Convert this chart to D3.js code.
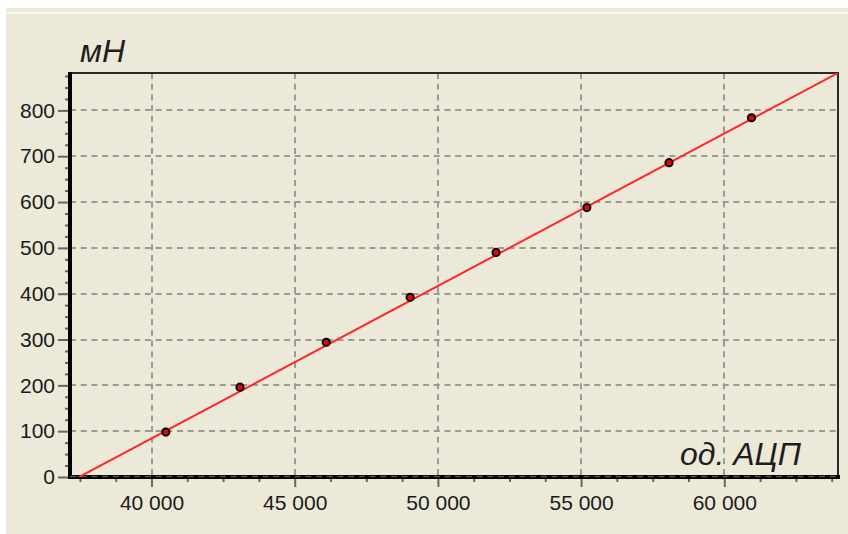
<!DOCTYPE html>
<html>
<head>
<meta charset="utf-8">
<script src="https://cdn.jsdelivr.net/npm/d3@7"></script>
<style>
  html, body { margin: 0; padding: 0; background: #ffffff; }
  svg { display: block; }
  text { font-family: "Liberation Sans", Arial, sans-serif; }
</style>
</head>
<body>
<svg id="chart" width="848" height="534"></svg>
<script>
// ---- data ----
const adcValues   = [40500, 43090, 46100, 49030, 52030, 55200, 58070, 60950]; // од. АЦП
const forceValues = [98, 196, 294, 392, 490, 588, 686, 784];                 // мН
const xTicks = [40000, 45000, 50000, 55000, 60000];
const yTicks = [0, 100, 200, 300, 400, 500, 600, 700, 800];
const xDomain = [37154, 63970];
const yDomain = [0, 881.6];
// calibration line: force = fitSlope * (adc - fitZero)
const fitSlope = [0.033268];
const fitZero  = [37469];
const yLabel = "мН";
const xLabel = "од. АЦП";

const svg = d3.select("#chart");
const W = 848, H = 534;
const plot = {left: 70, right: 838, top: 73, bottom: 477};

// background
svg.append("rect").attr("x", 0).attr("y", 0).attr("width", W).attr("height", H).attr("fill", "#ffffff");
svg.append("rect").attr("x", 6).attr("y", 8).attr("width", W - 6).attr("height", 4).attr("fill", "#ece9d8");
svg.append("rect").attr("x", 6).attr("y", 12).attr("width", W - 6).attr("height", 2).attr("fill", "#f7f6f0");
svg.append("rect").attr("x", 6).attr("y", 14).attr("width", W - 6).attr("height", H - 14).attr("fill", "#ece9d8");

const x = d3.scaleLinear().domain(xDomain).range([plot.left, plot.right]);
const y = d3.scaleLinear().domain(yDomain).range([plot.bottom, plot.top]);

const fmt = d3.formatLocale({decimal: ",", thousands: "\u00a0", grouping: [3], currency: ["", ""]}).format(",d");

// grid
const grid = svg.append("g").attr("stroke", "#9a9a9a").attr("stroke-width", 2).attr("stroke-dasharray", "6,4.7");
grid.selectAll("line.vx").data(xTicks).join("line")
  .attr("x1", d => Math.round(x(d))).attr("x2", d => Math.round(x(d)))
  .attr("y1", plot.top).attr("y2", plot.bottom);
grid.selectAll("line.hy").data(yTicks.filter(d => d > 0)).join("line")
  .attr("y1", d => Math.round(y(d))).attr("y2", d => Math.round(y(d)))
  .attr("x1", plot.left).attr("x2", plot.right);

// top and right border
svg.append("path")
  .attr("d", `M${plot.left},${plot.top}H${plot.right}V${plot.bottom}`)
  .attr("fill", "none").attr("stroke", "#2a2a2a").attr("stroke-width", 2);

// minor ticks
const xMinor = d3.range(37500, xDomain[1], 1250);
const yMinor = d3.range(0, yDomain[1], 25);

const tickFont = "'Liberation Sans', Arial, sans-serif";

const xAxis = d3.axisBottom(x).tickValues(xTicks).tickFormat(fmt).tickSize(10).tickPadding(8);
const gx = svg.append("g").attr("transform", `translate(0,${plot.bottom})`).call(xAxis);
gx.select(".domain").remove();
gx.selectAll(".tick line").attr("stroke", "#666").attr("stroke-width", 2);
gx.selectAll(".tick text").attr("font-size", 21).attr("font-family", tickFont).attr("fill", "#1a1a1a");

const gxm = svg.append("g").attr("transform", `translate(0,${plot.bottom})`)
  .call(d3.axisBottom(x).tickValues(xMinor.filter(v => !xTicks.includes(v))).tickFormat("").tickSize(5));
gxm.select(".domain").remove();
gxm.selectAll(".tick line").attr("stroke", "#666").attr("stroke-width", 2);

const yAxis = d3.axisLeft(y).tickValues(yTicks).tickSize(12).tickPadding(3);
const gy = svg.append("g").attr("transform", `translate(${plot.left},0)`).call(yAxis);
gy.select(".domain").remove();
gy.selectAll(".tick line").attr("stroke", "#666").attr("stroke-width", 2);
gy.selectAll(".tick text").attr("font-size", 21).attr("font-family", tickFont).attr("fill", "#1a1a1a");

const gym = svg.append("g").attr("transform", `translate(${plot.left},0)`)
  .call(d3.axisLeft(y).tickValues(yMinor.filter(v => v % 100 !== 0)).tickFormat("").tickSize(5));
gym.select(".domain").remove();
gym.selectAll(".tick line").attr("stroke", "#666").attr("stroke-width", 2);

// thick axis lines
svg.append("line").attr("x1", plot.left).attr("x2", plot.left).attr("y1", plot.top - 1).attr("y2", plot.bottom + 2)
  .attr("stroke", "#000").attr("stroke-width", 4);
svg.append("line").attr("x1", plot.left - 2).attr("x2", plot.right + 2).attr("y1", plot.bottom).attr("y2", plot.bottom)
  .attr("stroke", "#000").attr("stroke-width", 4);
svg.append("line").attr("x1", plot.left).attr("x2", plot.right).attr("y1", plot.bottom - 0.5).attr("y2", plot.bottom - 0.5)
  .attr("stroke", "#555").attr("stroke-width", 1.5).attr("stroke-dasharray", "6,4.7");

// clip
svg.append("clipPath").attr("id", "clip").append("rect")
  .attr("x", plot.left).attr("y", plot.top).attr("width", plot.right - plot.left).attr("height", plot.bottom - plot.top);

// calibration line
const lineData = xDomain.map(v => [v, fitSlope[0] * (v - fitZero[0])]);
svg.append("path").attr("clip-path", "url(#clip)")
  .datum(lineData)
  .attr("d", d3.line().x(d => x(d[0])).y(d => y(d[1])))
  .attr("fill", "none").attr("stroke", "#ff2626").attr("stroke-width", 2);

// points
svg.append("g").selectAll("circle").data(adcValues.map((v, i) => [v, forceValues[i]])).join("circle")
  .attr("cx", d => x(d[0])).attr("cy", d => y(d[1])).attr("r", 3.6)
  .attr("fill", "#ee0000").attr("stroke", "#000").attr("stroke-width", 2);

// axis titles
svg.append("text").attr("x", 80).attr("y", 62).attr("font-size", 32).attr("font-style", "italic")
  .attr("fill", "#1e1e1e").text(yLabel);
svg.append("text").attr("x", 801).attr("y", 465).attr("font-size", 32).attr("font-style", "italic")
  .attr("text-anchor", "end").attr("fill", "#1e1e1e").text(xLabel);
</script>
</body>
</html>
